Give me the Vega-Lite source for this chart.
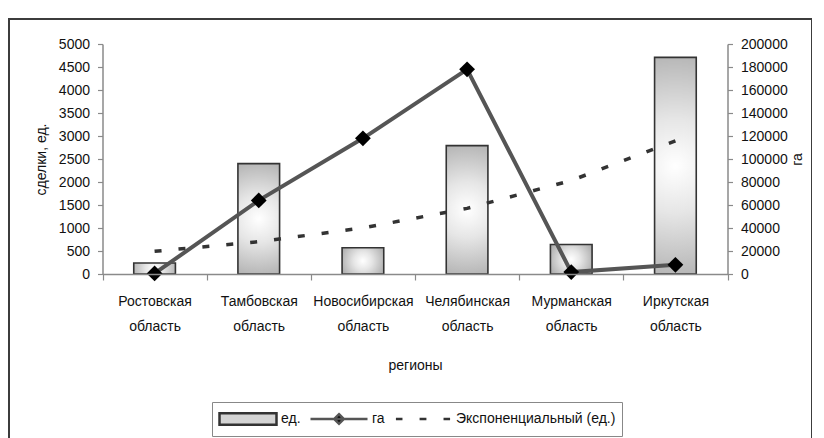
{
  "$schema": "https://vega.github.io/schema/vega-lite/v6.json",
  "width": 803,
  "height": 425,
  "autosize": "none",
  "padding": {"left": 9, "top": 19, "right": 0, "bottom": 0},
  "background": "white",
  "datasets": {
    "main": [
      {"region": "Ростовская область", "ed": 240, "ga": 500, "trend": 493},
      {"region": "Тамбовская область", "ed": 2400, "ga": 64000, "trend": 702},
      {"region": "Новосибирская область", "ed": 570, "ga": 118000, "trend": 1001},
      {"region": "Челябинская область", "ed": 2790, "ga": 178000, "trend": 1426},
      {"region": "Мурманская область", "ed": 640, "ga": 1700, "trend": 2032},
      {"region": "Иркутская область", "ed": 4710, "ga": 8000, "trend": 2896}
    ],
    "series": [
      {"series": "ед."},
      {"series": "га"},
      {"series": "Экспоненциальный (ед.)"}
    ]
  },
  "data": {"name": "main"},
  "layer": [
    {
      "layer": [
        {
          "mark": {
            "type": "bar",
            "width": {"band": 0.4},
            "stroke": "#333333",
            "strokeWidth": 1.6,
            "fill": {
              "gradient": "radial",
              "x1": 0.5, "y1": 0.5, "r1": 0,
              "x2": 0.5, "y2": 0.5, "r2": 0.62,
              "stops": [
                {"offset": 0, "color": "#ffffff"},
                {"offset": 0.35, "color": "#e6e6e6"},
                {"offset": 1, "color": "#a4a4a4"}
              ]
            }
          },
          "encoding": {
            "x": {
              "field": "region", "type": "nominal", "sort": null,
              "scale": {"range": [93.5, 718.5], "paddingInner": 0, "paddingOuter": 0},
              "axis": {
                "orient": "bottom", "offset": -170, "title": "регионы", "zindex": 1,
                "labelAngle": 0, "labelExpr": "split(datum.label, ' ')",
                "labelLineHeight": 25, "labelPadding": 14, "tickSize": 6,
                "tickBand": "extent", "titlePadding": 25
              }
            },
            "y": {
              "field": "ed", "type": "quantitative",
              "scale": {"domain": [0, 5000], "range": [255, 25], "nice": false},
              "axis": {
                "orient": "left", "offset": -93.5, "title": "сделки, ед.", "zindex": 1,
                "format": "d",
                "values": [0, 500, 1000, 1500, 2000, 2500, 3000, 3500, 4000, 4500, 5000],
                "tickSize": 5, "labelPadding": 8, "titlePadding": 10
              }
            }
          }
        },
        {
          "mark": {"type": "line", "stroke": "#333333", "strokeWidth": 3.5, "strokeDash": [7, 17]},
          "encoding": {
            "x": {"field": "region", "type": "nominal", "sort": null},
            "y": {"field": "trend", "type": "quantitative"}
          }
        }
      ]
    },
    {
      "layer": [
        {
          "mark": {"type": "line", "stroke": "#555555", "strokeWidth": 4},
          "encoding": {
            "x": {"field": "region", "type": "nominal", "sort": null},
            "y": {
              "field": "ga", "type": "quantitative",
              "scale": {"domain": [0, 200000], "range": [255, 25], "nice": false},
              "axis": {
                "orient": "right", "offset": -84.5, "title": "га", "zindex": 1,
                "format": "d",
                "values": [0, 20000, 40000, 60000, 80000, 100000, 120000, 140000, 160000, 180000, 200000],
                "tickSize": 5, "labelPadding": 8, "titlePadding": 17, "titleAngle": -90
              }
            }
          }
        },
        {
          "mark": {"type": "point", "shape": "diamond", "filled": true, "color": "#000000", "size": 250, "opacity": 1},
          "encoding": {
            "x": {"field": "region", "type": "nominal", "sort": null},
            "y": {"field": "ga", "type": "quantitative"}
          }
        },
        {
          "data": {"name": "series"},
          "mark": {"type": "point", "opacity": 0},
          "encoding": {
            "shape": {
              "field": "series", "type": "nominal", "sort": null,
              "scale": {
                "domain": ["ед.", "га", "Экспоненциальный (ед.)"],
                "range": ["M-1,-0.2H1V0.2H-1Z", "M-1,0H1M0,-0.17L0.17,0L0,0.17L-0.17,0Z", "M-0.95,0H-0.72M-0.12,0H0.12M0.72,0H0.95"]
              },
              "legend": {
                "orient": "none", "legendX": 203, "legendY": 383,
                "direction": "horizontal", "title": null,
                "symbolSize": 3249, "clipHeight": 22, "symbolOpacity": 1, "symbolStrokeWidth": 2.5,
                "labelFontSize": 14, "labelOffset": 3, "columnPadding": 8, "padding": 6,
                "strokeColor": "#888888", "fillColor": "white", "labelColor": "#111111"
              }
            },
            "fill": {
              "field": "series", "type": "nominal", "sort": null,
              "scale": {"domain": ["ед.", "га", "Экспоненциальный (ед.)"], "range": ["#d4d4d4", "#000000", "transparent"]},
              "legend": {
                "orient": "none", "legendX": 203, "legendY": 383,
                "direction": "horizontal", "title": null,
                "symbolSize": 3249, "clipHeight": 22, "symbolOpacity": 1, "symbolStrokeWidth": 2.5,
                "labelFontSize": 14, "labelOffset": 3, "columnPadding": 8, "padding": 6,
                "strokeColor": "#888888", "fillColor": "white", "labelColor": "#111111"
              }
            },
            "stroke": {
              "field": "series", "type": "nominal", "sort": null,
              "scale": {"domain": ["ед.", "га", "Экспоненциальный (ед.)"], "range": ["#333333", "#555555", "#333333"]},
              "legend": {
                "orient": "none", "legendX": 203, "legendY": 383,
                "direction": "horizontal", "title": null,
                "symbolSize": 3249, "clipHeight": 22, "symbolOpacity": 1, "symbolStrokeWidth": 2.5,
                "labelFontSize": 14, "labelOffset": 3, "columnPadding": 8, "padding": 6,
                "strokeColor": "#888888", "fillColor": "white", "labelColor": "#111111"
              }
            }
          }
        }
      ]
    }
  ],
  "resolve": {"scale": {"y": "independent"}},
  "config": {
    "font": "Liberation Sans",
    "view": {"stroke": "#3c3c3c", "strokeWidth": 2, "fill": "white"},
    "axis": {
      "labelFontSize": 14, "titleFontSize": 14, "titleFontWeight": "normal",
      "labelFont": "Liberation Sans", "titleFont": "Liberation Sans",
      "labelColor": "#111111", "titleColor": "#111111",
      "domainColor": "#8a8a8a", "tickColor": "#8a8a8a",
      "domainWidth": 1.5, "tickWidth": 1.2, "grid": false
    },
    "legend": {"labelFont": "Liberation Sans"}
  }
}
